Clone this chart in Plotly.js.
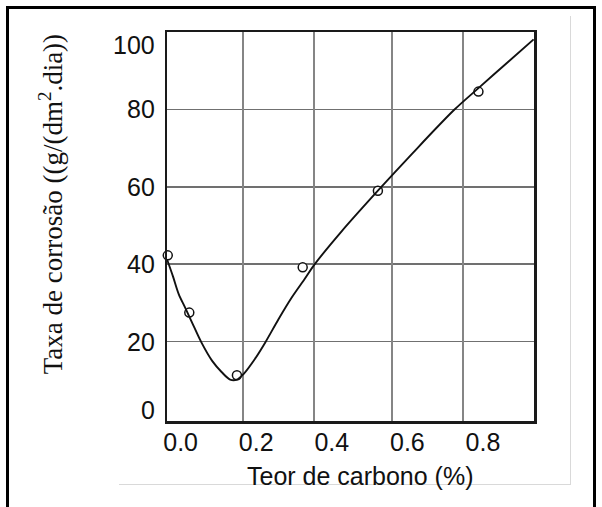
<!DOCTYPE html>
<html>
<head>
<meta charset="utf-8">
<script src="https://cdn.plot.ly/plotly-3.0.1.min.js"></script>
<style>
  html, body { margin: 0; padding: 0; background: #fff; }
  #wrap { position: relative; width: 602px; height: 507px; overflow: hidden; background: #fff; }
  #sheet { position: absolute; left: 119px; top: 16px; width: 451px; height: 468px;
           border-right: 1px solid #d9d9d9; border-bottom: 1px solid #d9d9d9; }
  #chart { position: absolute; left: 0; top: 0; width: 602px; height: 507px; }
  #frame { position: absolute; left: 6px; top: 6px; width: 584px; height: 600px;
           border: 3px solid #000; pointer-events: none; }
</style>
</head>
<body>
<div id="wrap">
  <div id="sheet"></div>
  <div id="chart"></div>
  <div id="frame"></div>
</div>
<script>
// Measured samples: carbon content (%) vs corrosion rate
const carbonPct     = [-0.034, 0.023, 0.149, 0.323, 0.522, 0.788];
const corrosionRate = [42.3, 27.5, 11.3, 39.2, 59.0, 84.6];

// Hand-drawn trend curve through the samples
const trendCarbon = [-0.036, -0.020, -0.005, 0.012, 0.030, 0.055, 0.083, 0.109, 0.131, 0.149,
                     0.167, 0.197, 0.224, 0.259, 0.294, 0.329, 0.354, 0.426, 0.522, 0.611,
                     0.724, 0.788, 0.867, 0.934];
const trendRate   = [41.3, 36.8, 32.3, 28.8, 25.0, 19.8, 15.1, 12.1, 10.2, 10.2,
                     11.7, 15.6, 19.8, 25.8, 31.4, 36.3, 39.9, 48.5, 59.0, 68.4,
                     79.9, 85.5, 92.3, 98.1];

// Axis ticks
const xTickVals = [0, 0.2, 0.4, 0.6, 0.8];
const xTickText = ['0.0', '0.2', '0.4', '0.6', '0.8'];
const gridCarbon = [0.164, 0.354, 0.560, 0.748];   // vertical rulings of the graph paper
const yTickVals = [0, 20, 40, 60, 80, 100];
const yTickText = ['0', '20', '40', '60', '80', '100'];

const xTitle = 'Teor de carbono (%)';
const yTitle = 'Taxa de corrosão ((g/(dm<sup>2</sup>.dia))';

const SANS = 'Liberation Sans, Arial, sans-serif';
const SERIF = 'Liberation Serif, Times New Roman, serif';
const xRange = [-0.036, 0.935];
const yRange = [-0.5, 100];

const traces = [
  {
    type: 'scatter', mode: 'lines',
    x: trendCarbon, y: trendRate,
    xaxis: 'x2', yaxis: 'y',
    line: { color: '#111', width: 1.9, shape: 'spline', smoothing: 0.9 },
    hoverinfo: 'skip'
  },
  {
    type: 'scatter', mode: 'markers',
    x: carbonPct, y: corrosionRate,
    xaxis: 'x', yaxis: 'y',
    cliponaxis: false,
    marker: { symbol: 'circle', size: 9, color: '#fff', line: { color: '#111', width: 1.5 } }
  }
];

// Rate-axis labels, set just left of the frame; the end labels are nudged inward
const yLabelAnnotations = yTickVals.map((v, i) => {
  let nudge = 0;
  if (i === 0) nudge = 9;
  if (i === yTickVals.length - 1) nudge = -13;
  return {
    xref: 'paper', x: 0, xanchor: 'right', xshift: -10,
    yref: 'y', y: v, yanchor: 'middle', yshift: nudge,
    text: yTickText[i], showarrow: false,
    font: { family: SANS, size: 25, color: '#111' }
  };
});

const layout = {
  width: 602, height: 507,
  margin: { l: 167, r: 68, t: 32, b: 86, pad: 0 },
  paper_bgcolor: 'rgba(0,0,0,0)',
  plot_bgcolor: '#fff',
  showlegend: false,
  font: { family: SANS, size: 25, color: '#111' },
  xaxis: {
    range: xRange, tickvals: xTickVals, ticktext: xTickText,
    showgrid: false, zeroline: false,
    showline: true, mirror: true, linecolor: '#1a1a1a', linewidth: 2.5,
    ticks: '', ticklabelstandoff: -3,
    tickfont: { family: SANS, size: 25, color: '#111' }
  },
  xaxis2: {
    overlaying: 'x', range: xRange, tickvals: gridCarbon,
    showticklabels: false, showgrid: true, gridcolor: '#858585', gridwidth: 2,
    zeroline: false, showline: false, ticks: ''
  },
  yaxis: {
    range: yRange, tickvals: yTickVals.slice(1, -1),
    showticklabels: false,
    showgrid: true, gridcolor: '#707070', gridwidth: 1.6, zeroline: false,
    showline: true, mirror: true, linecolor: '#1a1a1a', linewidth: 2.5,
    ticks: ''
  },
  annotations: [
    ...yLabelAnnotations,
    {
      xref: 'paper', x: 0, xshift: -116, xanchor: 'center',
      yref: 'paper', y: 0.557, yanchor: 'middle',
      text: yTitle, textangle: -90, showarrow: false,
      font: { family: SERIF, size: 27, color: '#111' }
    },
    {
      xref: 'paper', x: 0.526, xanchor: 'center',
      yref: 'paper', y: -0.142, yanchor: 'middle',
      text: xTitle, showarrow: false,
      font: { family: SANS, size: 25, color: '#111' }
    }
  ]
};

Plotly.newPlot('chart', traces, layout, { staticPlot: true, displayModeBar: false });
</script>
</body>
</html>
